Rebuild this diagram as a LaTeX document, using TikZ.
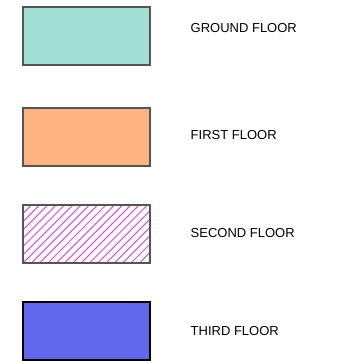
\documentclass[tikz,border=0pt]{standalone}
\usepackage{fontspec}
\setmainfont{Liberation Sans}
\definecolor{groundc}{RGB}{161,222,212}
\definecolor{firstc}{RGB}{255,179,128}
\definecolor{thirdc}{RGB}{97,102,234}
\definecolor{hatchc}{RGB}{215,80,225}
\definecolor{edgec}{RGB}{85,85,85}
\begin{document}
\begin{tikzpicture}[x=1pt,y=-1pt,
  swatch/.style={draw=edgec,line width=1.2pt},
  lbl/.style={anchor=west,inner sep=0pt,font=\fontsize{13}{15}\selectfont,text=black}]
\useasboundingbox (0,0) rectangle (340,361);
% ground floor
\path[swatch,fill=groundc] (23,7) rectangle (150,65);
\node[lbl] (g) at (190.5,28.3) {GROUND FLOOR};
% first floor
\path[swatch,fill=firstc] (23,108) rectangle (150,166);
\node[lbl] (f) at (190.5,134.7) {FIRST FLOOR};
% second floor (hatched)
\begin{scope}
\clip (23,205) rectangle (150,263);
\foreach \k in {-58,-49.7,...,130} {
  \draw[hatchc,line width=1pt] (23+\k,263) -- (23+\k+58,205);
}
\end{scope}
\path[swatch] (23,205) rectangle (150,263);
\node[lbl] (s) at (190.5,232.8) {SECOND FLOOR};
% third floor
\path[swatch,draw=black,line width=1.1pt,fill=thirdc] (23,302) rectangle (150,360);
\node[lbl] (t) at (190.5,330.8) {THIRD FLOOR};
\end{tikzpicture}
\end{document}
